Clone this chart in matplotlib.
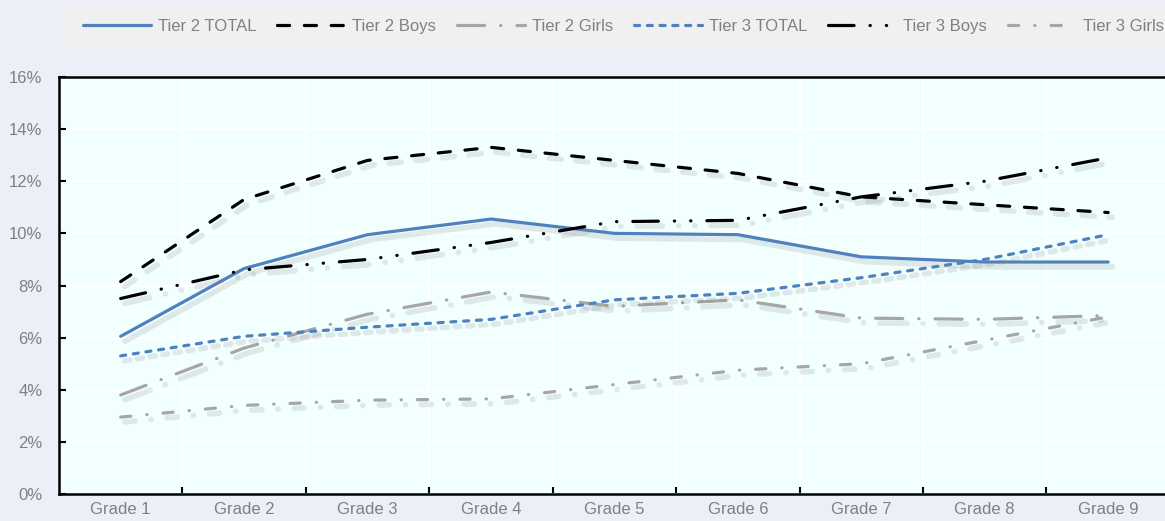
import numpy as np
import matplotlib.pyplot as plt
import matplotlib.patheffects as pe
from matplotlib.lines import Line2D
from matplotlib.patches import Rectangle
from matplotlib.ticker import PercentFormatter, FixedLocator

plt.rcParams['font.family'] = ['Liberation Sans', 'DejaVu Sans']

grades = ['Grade 1', 'Grade 2', 'Grade 3', 'Grade 4', 'Grade 5',
          'Grade 6', 'Grade 7', 'Grade 8', 'Grade 9']
tier2_total = [6.05, 8.65, 9.95, 10.55, 10.0, 9.95, 9.1, 8.9, 8.9]
tier2_boys = [8.15, 11.3, 12.8, 13.3, 12.8, 12.3, 11.4, 11.1, 10.8]
tier2_girls = [3.8, 5.6, 6.9, 7.75, 7.2, 7.45, 6.75, 6.7, 6.85]
tier3_total = [5.3, 6.05, 6.4, 6.7, 7.45, 7.7, 8.3, 9.0, 9.95]
tier3_boys = [7.5, 8.6, 9.0, 9.65, 10.45, 10.5, 11.4, 12.0, 12.9]
tier3_girls = [2.95, 3.4, 3.6, 3.65, 4.2, 4.75, 5.0, 5.9, 6.8]

blue = '#4F81BD'
grey = '#A6A6A6'
txt = '#808080'

series = [
    ('Tier 2 TOTAL', tier2_total, blue, '-'),
    ('Tier 2 Boys', tier2_boys, 'black', (0, (3.8, 4.6))),
    ('Tier 2 Girls', tier2_girls, grey, (0, (8.5, 5, 0.1, 5))),
    ('Tier 3 TOTAL', tier3_total, blue, (0, (1.6, 2.4))),
    ('Tier 3 Boys', tier3_boys, 'black', (0, (8, 5, 0.1, 5, 0.1, 5))),
    ('Tier 3 Girls', tier3_girls, grey, (0, (3.2, 5, 0.1, 5))),
]

fig = plt.figure(figsize=(11.65, 5.21), dpi=100)
fig.patch.set_facecolor('#ECEFF7')
ax = fig.add_axes([0.0506, 0.0518, 0.9536, 0.8004])
ax.set_facecolor('#F2FFFF')

x = np.arange(len(grades))
shadow = [pe.SimpleLineShadow(offset=(3, -3.5), shadow_color='#808080', alpha=0.18, linewidth=4),
          pe.Normal()]
handles = []
for name, vals, col, ls in series:
    ax.plot(x, vals, color=col, linestyle=ls, lw=2.3, dash_capstyle='round',
            solid_capstyle='round', path_effects=shadow, zorder=3)
    handles.append(Line2D([], [], color=col, linestyle=ls, lw=2.3, dash_capstyle='round',
                          solid_capstyle='round', label=name))

ax.set_xlim(-0.5, 8.5)
ax.set_ylim(0, 16)
ax.set_xticks(x)
ax.set_xticklabels(grades)
ax.xaxis.set_minor_locator(FixedLocator(np.arange(0.5, 8.5, 1)))
ax.set_yticks(np.arange(0, 17, 2))
ax.yaxis.set_major_formatter(PercentFormatter(decimals=0))

ax.tick_params(axis='x', which='major', length=0, pad=6, labelsize=12, labelcolor=txt)
ax.tick_params(axis='x', which='minor', direction='in', length=5, width=1.5, color='black')
ax.tick_params(axis='y', direction='in', length=5, width=1.5, pad=12, labelsize=12, labelcolor=txt)
ax.grid(axis='y', which='major', color='white', lw=1.5)
ax.grid(axis='x', which='minor', color='white', lw=1.5)
ax.set_axisbelow(True)
for s in ax.spines.values():
    s.set_color('black')
    s.set_linewidth(1.8)

# legend band
fig.patches.append(Rectangle((0.054, 0.91), 0.95, 0.079, transform=fig.transFigure,
                             facecolor='#F0F0F0', edgecolor='none', zorder=0))
leg = fig.legend(handles=handles, ncol=6, loc='center left',
                 bbox_to_anchor=(0.071, 0.95), fontsize=12,
                 handlelength=4.1, handletextpad=0.4, columnspacing=1.25,
                 frameon=False, borderaxespad=0, borderpad=0)
for t in leg.get_texts():
    t.set_color(txt)

plt.savefig('out.png', dpi=100, facecolor=fig.get_facecolor())
